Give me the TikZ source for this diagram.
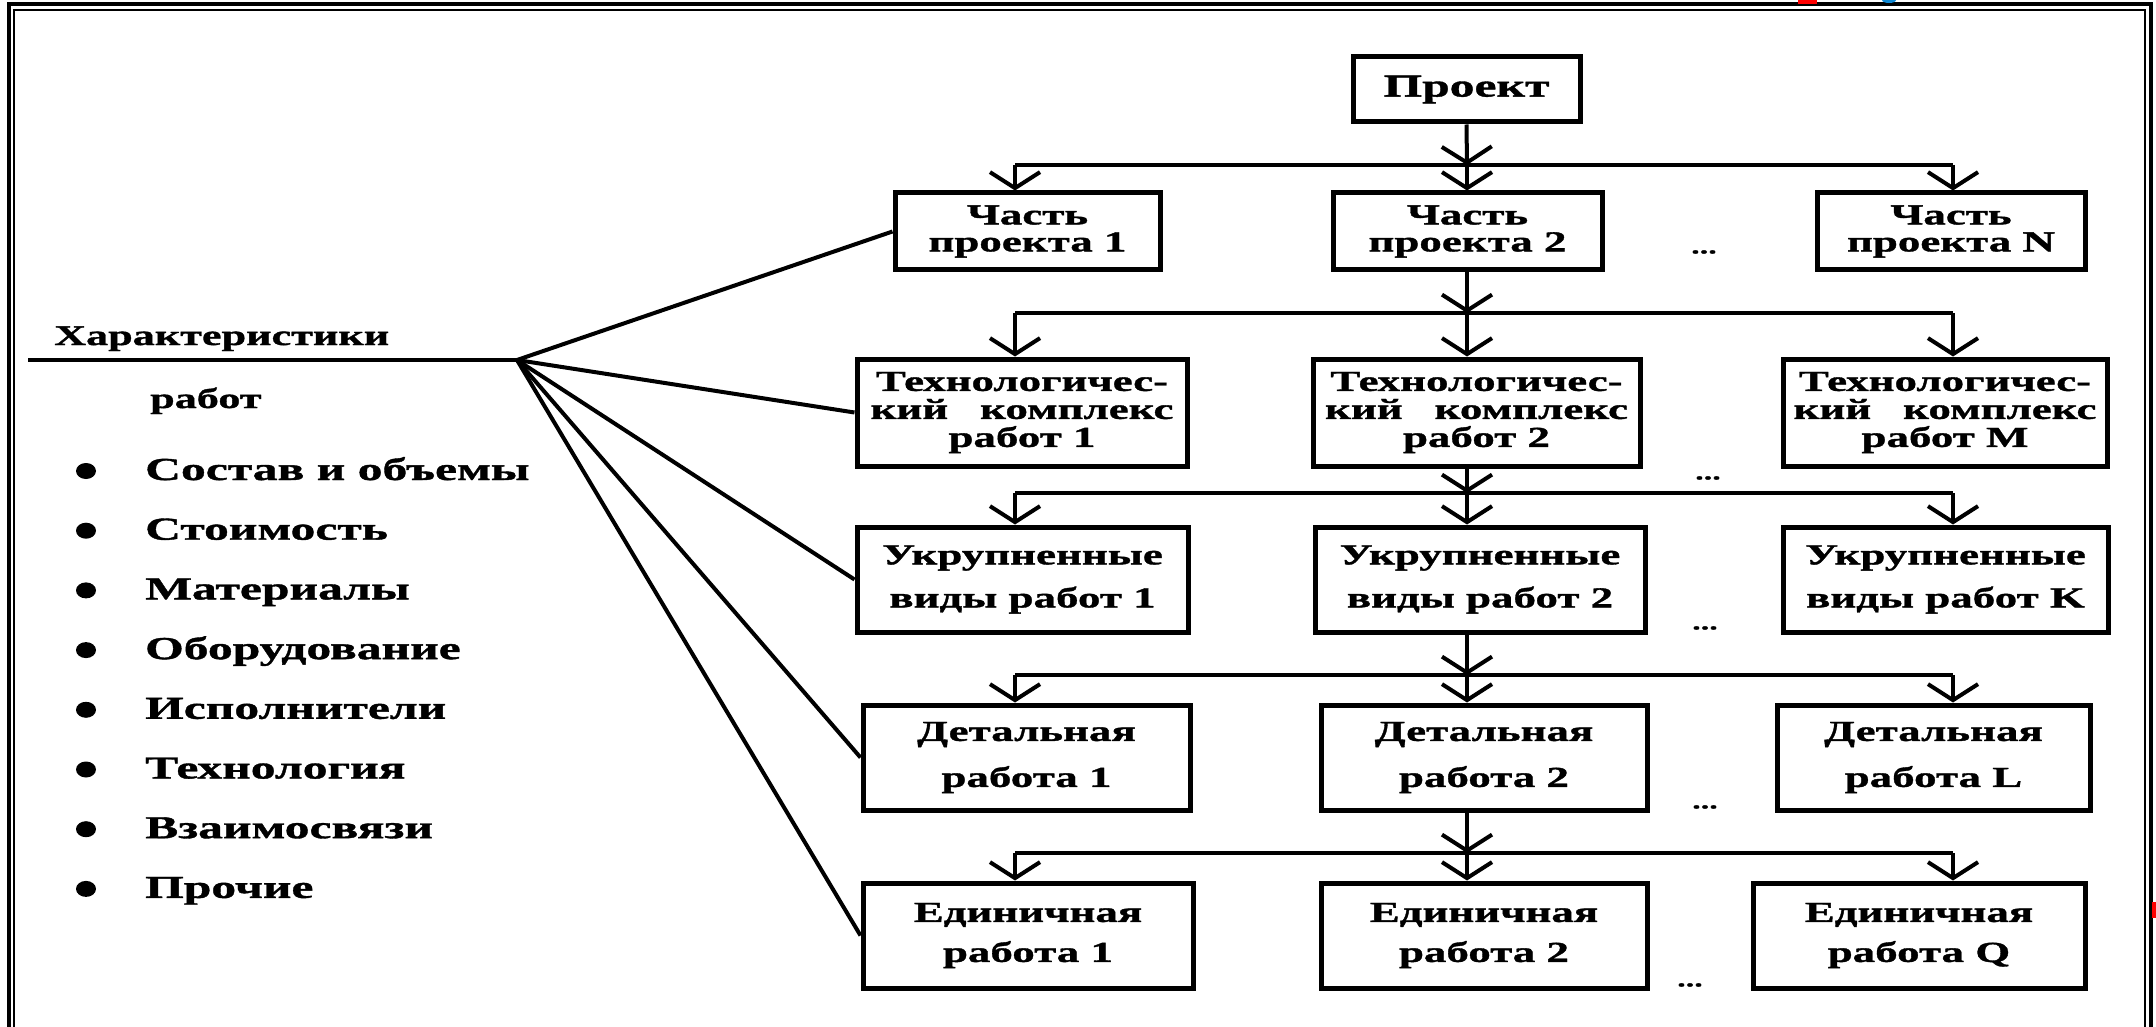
\documentclass[tikz,border=0pt]{standalone}
\usepackage{fontspec}
\setmainfont{Liberation Serif}[FakeStretch=1.55,FakeBold=1.2]
\usetikzlibrary{arrows.meta,calc}
\begin{document}
\begin{tikzpicture}[x=1pt,y=-1pt,
  box/.style={draw, line width=5pt, inner sep=0pt, align=center},
  boxtxt/.style={font=\bfseries\fontsize{29}{#1}\selectfont},
  conn/.style={line width=4pt},
  arr/.style={line width=4pt, -{Straight Barb[length=16pt,width=50pt]}},
  lbl/.style={font=\bfseries\fontsize{32}{36}\selectfont, inner sep=0pt},
  hdrl/.style={font=\bfseries\fontsize{28.5}{32}\selectfont, inner sep=0pt},
  dotsl/.style={font=\bfseries\fontsize{22}{22}\selectfont, inner sep=0pt}
]
\useasboundingbox (0,0) rectangle (2156,1027);
\fill[white] (0,0) rectangle (2156,1027);
% frame
\draw[line width=4pt] (9,1027) -- (9,4) -- (2151,4) -- (2151,1027);
\draw[line width=1.5pt] (14,1027) -- (14,10) -- (2145,10) -- (2145,1027);
\fill[red] (1798,0) rectangle (1817,4);
\fill[cyan!70!blue] (1889,0) ellipse (7pt and 3pt);
\fill[red] (2152,902) rectangle (2156,918);

% column x positions
\coordinate (xl) at (1015,0);
\coordinate (xm) at (1467,0);
\coordinate (xr) at (1953,0);
\coordinate (b1) at (0,165);
\coordinate (b2) at (0,313);
\coordinate (b3) at (0,493);
\coordinate (b4) at (0,675);
\coordinate (b5) at (0,853);

% boxes
\node[box, minimum width=227, minimum height=65, font=\bfseries\fontsize{32}{32}\selectfont] (p) at (1466.5,89.5) {Проект};

\node[box, boxtxt=27, minimum width=265, minimum height=77] (c11) at (1027.5,231.5) {Часть\\проекта 1};
\node[box, boxtxt=27, minimum width=269, minimum height=77] (c12) at (1467.5,231.5) {Часть\\проекта 2};
\node[box, boxtxt=27, minimum width=268, minimum height=77] (c13) at (1951,231.5) {Часть\\проекта N};

\node[box, boxtxt=28, minimum width=330, minimum height=107] (c21) at (1022,412.5) {Технологичес-\\кий\hspace{1.1em}комплекс\\работ 1};
\node[box, boxtxt=28, minimum width=327, minimum height=107] (c22) at (1476.5,412.5) {Технологичес-\\кий\hspace{1.1em}комплекс\\работ 2};
\node[box, boxtxt=28, minimum width=324, minimum height=107] (c23) at (1945,412.5) {Технологичес-\\кий\hspace{1.1em}комплекс\\работ M};

\node[box, boxtxt=43, minimum width=331, minimum height=105] (c31) at (1022.5,579.5) {Укрупненные\\виды работ 1};
\node[box, boxtxt=43, minimum width=330, minimum height=105] (c32) at (1480,579.5) {Укрупненные\\виды работ 2};
\node[box, boxtxt=43, minimum width=325, minimum height=105] (c33) at (1945.5,579.5) {Укрупненные\\виды работ K};

\node[box, boxtxt=46, minimum width=327, minimum height=105] (c41) at (1026.5,757.5) {Детальная\\работа 1};
\node[box, boxtxt=46, minimum width=326, minimum height=105] (c42) at (1484,757.5) {Детальная\\работа 2};
\node[box, boxtxt=46, minimum width=313, minimum height=105] (c43) at (1933.5,757.5) {Детальная\\работа L};

\node[box, boxtxt=40, minimum width=330, minimum height=105] (c51) at (1028,935.5) {Единичная\\работа 1};
\node[box, boxtxt=40, minimum width=326, minimum height=105] (c52) at (1484,935.5) {Единичная\\работа 2};
\node[box, boxtxt=40, minimum width=332, minimum height=105] (c53) at (1919,935.5) {Единичная\\работа Q};

% dots
\node[dotsl] (d1) at (1704,252) {...};
\node[dotsl] (d2) at (1708,478) {...};
\node[dotsl] (d3) at (1705,628) {...};
\node[dotsl] (d4) at (1705,807) {...};
\node[dotsl] (d5) at (1690,985) {...};

% tree connectors
\draw[arr] (p.south) -- (xm |- b1);
\draw[conn] (xl |- b1) -- (xr |- b1);
\draw[arr] (xl |- b1) -- (xl |- c11.north);
\draw[arr] (xm |- b1) -- (xm |- c12.north);
\draw[arr] (xr |- b1) -- (xr |- c13.north);

\draw[arr] (xm |- c12.south) -- (xm |- b2);
\draw[conn] (xl |- b2) -- (xr |- b2);
\draw[arr] (xl |- b2) -- (xl |- c21.north);
\draw[arr] (xm |- b2) -- (xm |- c22.north);
\draw[arr] (xr |- b2) -- (xr |- c23.north);

\draw[arr] (xm |- c22.south) -- (xm |- b3);
\draw[conn] (xl |- b3) -- (xr |- b3);
\draw[arr] (xl |- b3) -- (xl |- c31.north);
\draw[arr] (xm |- b3) -- (xm |- c32.north);
\draw[arr] (xr |- b3) -- (xr |- c33.north);

\draw[arr] (xm |- c32.south) -- (xm |- b4);
\draw[conn] (xl |- b4) -- (xr |- b4);
\draw[arr] (xl |- b4) -- (xl |- c41.north);
\draw[arr] (xm |- b4) -- (xm |- c42.north);
\draw[arr] (xr |- b4) -- (xr |- c43.north);

\draw[arr] (xm |- c42.south) -- (xm |- b5);
\draw[conn] (xl |- b5) -- (xr |- b5);
\draw[arr] (xl |- b5) -- (xl |- c51.north);
\draw[arr] (xm |- b5) -- (xm |- c52.north);
\draw[arr] (xr |- b5) -- (xr |- c53.north);

% left panel
\node[hdrl, anchor=base west] (hdr) at (54,345) {Характеристики};
\coordinate (hl) at (28,360);
\coordinate (o) at (517,360);
\draw[conn] (hl) -- (o);
\node[hdrl, anchor=base west] (rab) at (150,408) {работ};

\foreach \t [count=\i] in {Состав и объемы,Стоимость,Материалы,Оборудование,Исполнители,Технология,Взаимосвязи,Прочие}{
  \pgfmathsetmacro{\yy}{480+59.7*(\i-1)}
  \node[lbl, anchor=base west] (it\i) at (145,\yy) {\t};
  \fill (86,\yy-9) ellipse (10pt and 8pt);
}

% fan
\draw[conn] (o) -- (c11.west);
\draw[conn] (o) -- (c21.west);
\draw[conn] (o) -- (c31.west);
\draw[conn] (o) -- (c41.west);
\draw[conn] (o) -- (c51.west);
\end{tikzpicture}
\end{document}
